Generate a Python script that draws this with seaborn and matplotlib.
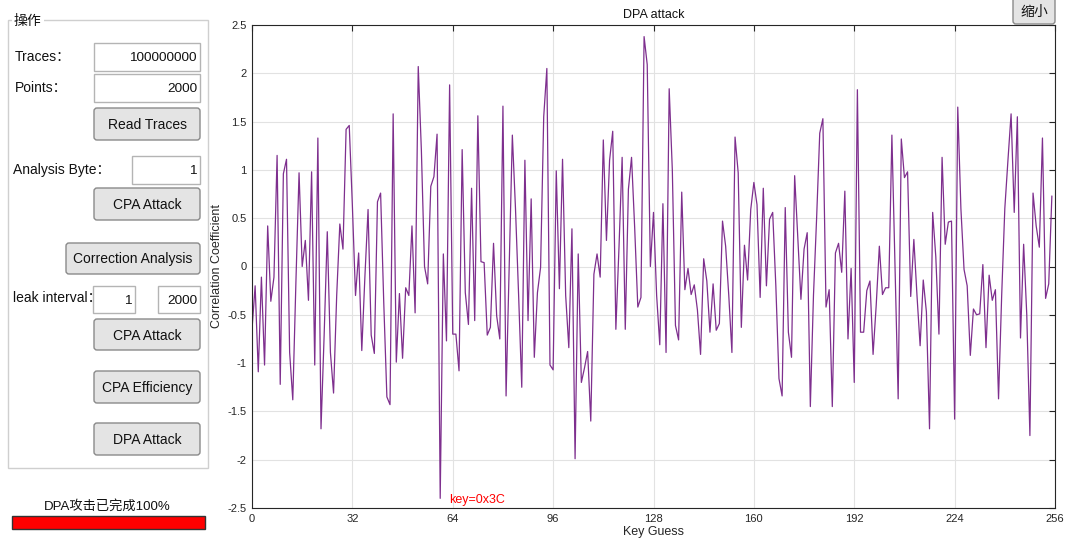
import numpy as np
import pandas as pd
import seaborn as sns
import matplotlib.pyplot as plt
from matplotlib.patches import Rectangle, FancyBboxPatch

# correlation per key guess
key_guess = list(range(256))
corr = [
    -0.65, -0.2, -1.09, -0.11, -1.02, 0.42, -0.36, -0.11, 1.15, -1.22,
    0.96, 1.11, -0.89, -1.38, -0.16, 0.97, 0.0, 0.27, -0.35, 0.98,
    -1.02, 1.33, -1.68, -0.71, 0.36, -0.89, -1.31, -0.3, 0.44, 0.18,
    1.42, 1.46, 0.63, -0.30, 0.14, -0.87, -0.1, 0.59, -0.71, -0.9,
    0.67, 0.76, -0.37, -1.35, -1.43, 1.58, -0.99, -0.28, -0.95, -0.22,
    -0.30, 0.42, -0.48, 2.07, 1.2, 0.0, -0.18, 0.83, 0.93, 1.37,
    -2.4, 0.13, -0.77, 1.88, -0.70, -0.70, -1.08, 1.21, -0.27, -0.6,
    0.81, -0.56, 1.56, 0.05, 0.04, -0.71, -0.63, 0.24, -0.51, -0.75,
    1.66, -1.34, 0.0, 1.36, 0.6, -0.3, -1.25, 1.10, -0.56, 0.70,
    -0.94, -0.27, -0.01, 1.55, 2.05, -1.02, -1.07, 0.99, -0.23, 1.11,
    -0.3, -0.84, 0.39, -1.99, 0.13, -1.2, -1.05, -0.88, -1.6, -0.08,
    0.13, -0.11, 1.31, 0.27, 1.1, 1.4, -0.65, 0.2, 1.13, -0.65,
    0.8, 1.13, 0.4, -0.42, -0.32, 2.38, 2.09, 0.0, 0.56, -0.3,
    -0.81, 0.65, -0.89, 1.84, 1.0, -0.61, -0.76, 0.77, -0.24, -0.02,
    -0.29, -0.19, -0.45, -0.91, 0.08, -0.15, -0.68, -0.18, -0.66, -0.59,
    0.47, 0.21, -0.3, -0.89, 1.34, 0.97, -0.63, 0.22, -0.14, 0.59,
    0.87, 0.64, -0.32, 0.81, -0.2, 0.49, 0.56, -0.2, -1.16, -1.34,
    0.61, -0.68, -0.94, 0.94, 0.3, -0.34, 0.18, 0.35, -1.45, -0.3,
    0.5, 1.38, 1.53, -0.42, -0.24, -1.45, 0.14, 0.24, -0.06, 0.78,
    -0.75, -0.02, -1.2, 1.83, -0.68, -0.68, -0.25, -0.15, -0.91, -0.4,
    0.21, -0.29, -0.22, -0.22, 1.36, 0.0, -1.37, 1.32, 0.92, 0.98,
    -0.31, 0.28, -0.3, -0.82, -0.14, -0.47, -1.68, 0.56, 0.1, -0.70,
    1.13, 0.23, 0.46, 0.47, -1.58, 1.65, 0.6, -0.03, -0.2, -0.92,
    -0.44, -0.5, -0.49, 0.02, -0.84, -0.09, -0.35, -0.24, -1.37, -0.3,
    0.6, 1.1, 1.58, 0.56, 1.55, -0.74, 0.23, -0.5, -1.75, 0.76,
    0.42, 0.2, 1.33, -0.33, -0.18, 0.73,
]
best_key = 60
x_ticks = list(range(0, 257, 32))
y_ticks = [-2.5, -2, -1.5, -1, -0.5, 0, 0.5, 1, 1.5, 2, 2.5]

# GUI widgets on the left
labels = [("Traces：", 15, 57), ("Points：", 15, 88), ("Analysis Byte：", 13, 170),
          ("leak interval：", 13, 298)]
edits = [("100000000", 94, 43, 106, 28), ("2000", 94, 74, 106, 28), ("1", 132, 156, 68, 28),
         ("1", 93, 286, 42, 27), ("2000", 158, 286, 42, 27)]
buttons = [("Read Traces", 94, 108, 106, 32), ("CPA Attack", 94, 188, 106, 32),
           ("Correction Analysis", 66, 243, 134, 31), ("CPA Attack", 94, 319, 106, 31),
           ("CPA Efficiency", 94, 371, 106, 32), ("DPA Attack", 94, 423, 106, 32),
           ("缩小", 1013, -3, 42, 27)]
progress_text = "DPA攻击已完成100%"

sns.set_theme(style="white")
plt.rcParams['font.family'] = ['Liberation Sans', 'Noto Sans CJK SC', 'DejaVu Sans']
plt.rcParams['axes.unicode_minus'] = False

fig = plt.figure(figsize=(10.67, 5.45), dpi=100)
fig.patch.set_facecolor('white')

# pixel-space overlay for the GUI parts
ui = fig.add_axes([0, 0, 1, 1], zorder=0)
ui.set_xlim(0, 1067)
ui.set_ylim(545, 0)
ui.axis('off')

ui.add_patch(Rectangle((8, 20), 200, 448, fill=False, edgecolor='#cfcfcf', lw=1))
ui.text(14, 21, "操作", fontsize=10, va='center', ha='left', color='#111111',
        bbox=dict(facecolor='white', edgecolor='none', pad=1.5))
for txt, x, y in labels:
    ui.text(x, y, txt, fontsize=10, va='center', ha='left', color='#111111')
for txt, x, y, w, h in edits:
    ui.add_patch(Rectangle((x, y), w, h, facecolor='white', edgecolor='#b4b4b4', lw=1))
    ui.text(x + w - 3, y + h / 2 + 1, txt, fontsize=9.7, va='center', ha='right', color='#111111')
for txt, x, y, w, h in buttons:
    ui.add_patch(FancyBboxPatch((x, y), w, h, boxstyle='round,pad=0,rounding_size=3',
                                facecolor='#e4e4e4', edgecolor='#8a8a8a', lw=1))
    ui.text(x + w / 2, y + h / 2 + 1, txt, fontsize=10, va='center', ha='center', color='#111111')

ui.text(107, 506, progress_text, fontsize=9.5, va='center', ha='center', color='#111111')
ui.add_patch(Rectangle((12, 516), 193, 13, facecolor='#ff0000', edgecolor='#333333', lw=1))

# main chart
ax = fig.add_axes([252 / 1067, 1 - 508 / 545, (1055 - 252) / 1067, (508 - 25) / 545], zorder=1)
df = pd.DataFrame({'key': key_guess, 'corr': corr})
sns.lineplot(data=df, x='key', y='corr', ax=ax, color='#7E2F8E', linewidth=0.9)

ax.set_xlim(0, 256)
ax.set_ylim(-2.5, 2.5)
ax.set_xticks(x_ticks)
ax.set_yticks(y_ticks)
ax.set_yticklabels(['%g' % v for v in y_ticks])
ax.grid(True, color='#e2e2e2', linewidth=0.8)
ax.tick_params(direction='in', length=4, width=0.8, top=True, right=True,
               labelsize=8, colors='#262626', pad=4)
for s in ax.spines.values():
    s.set_color('#262626')
    s.set_linewidth(0.8)
ax.set_title('DPA attack', fontsize=9, pad=5, color='#111111')
ax.set_xlabel('Key Guess', fontsize=9, labelpad=2, color='#262626')
ax.set_ylabel('Correlation Coefficient', fontsize=9, labelpad=3, color='#262626')

ax.text(best_key + 3, -2.42, 'key=0x3C', color='red', fontsize=9, va='center', ha='left')

fig.savefig('out.png', dpi=100)
